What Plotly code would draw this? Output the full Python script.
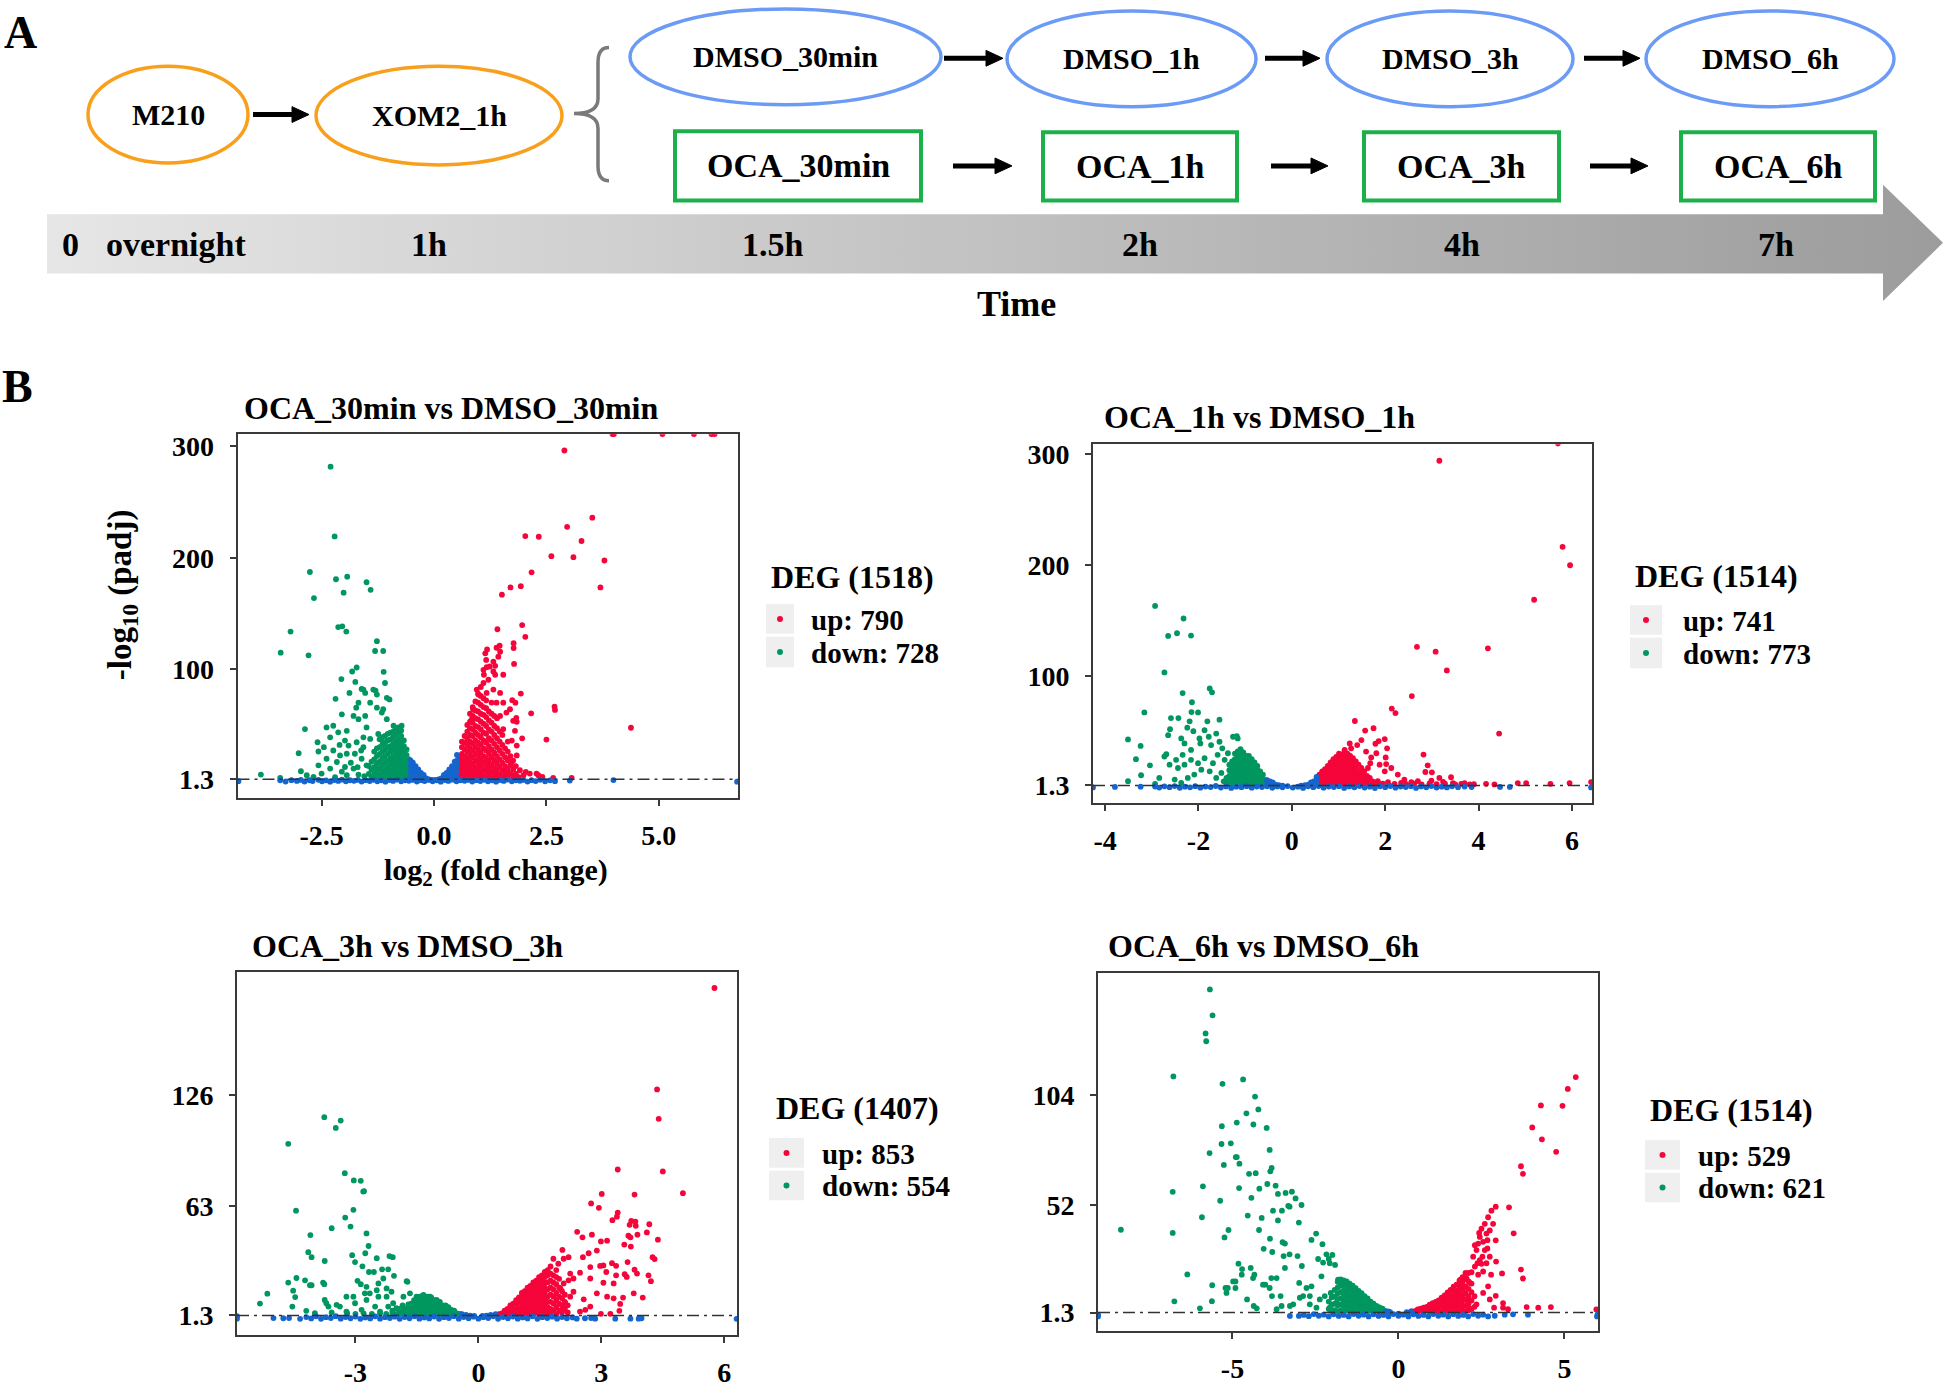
import plotly.graph_objects as go

W, H = 1946, 1388
SERIF = "Liberation Serif"
RED, GREEN, BLUE = "#F5053A", "#00965F", "#1565CF"
ORANGE, LBLUE, BGREEN = "#F8A01C", "#6B9BF5", "#1CB04A"

# ---------------- DATA ----------------
pre_stages = ["M210", "XOM2_1h"]
dmso_stages = ["DMSO_30min", "DMSO_1h", "DMSO_3h", "DMSO_6h"]
oca_stages = ["OCA_30min", "OCA_1h", "OCA_3h", "OCA_6h"]
time_labels = ["0", "overnight", "1h", "1.5h", "2h", "4h", "7h"]

panel_titles = ["OCA_30min vs DMSO_30min", "OCA_1h vs DMSO_1h",
                "OCA_3h vs DMSO_3h", "OCA_6h vs DMSO_6h"]
deg_total = [1518, 1514, 1407, 1514]
up_counts = [790, 741, 853, 529]
down_counts = [728, 773, 554, 621]
padj_threshold = 1.3

x_tickvals = [[-2.5, 0, 2.5, 5], [-4, -2, 0, 2, 4, 6], [-3, 0, 3, 6], [-5, 0, 5]]
x_ticktext = [["-2.5", "0.0", "2.5", "5.0"], ["-4", "-2", "0", "2", "4", "6"],
              ["-3", "0", "3", "6"], ["-5", "0", "5"]]
y_tickvals = [[1.3, 100, 200, 300], [1.3, 100, 200, 300], [1.3, 63, 126], [1.3, 52, 104]]
y_ticktext = [["1.3", "100", "200", "300"], ["1.3", "100", "200", "300"],
              ["1.3", "63", "126"], ["1.3", "52", "104"]]

# ---- panel 1: OCA_30min vs DMSO_30min  (log2FC, -log10 padj) ----
p1_up = [(3.97,311),(4.00,311),(5.08,311),(5.78,311),(6.17,311),(6.24,311),
 (2.90,296.2),(3.52,235.9),(2.96,227.7),(2.03,219.4),(2.33,218.8),(3.28,215.0),(2.61,201.4),
 (3.10,200.5),(3.79,197.5),(2.17,186.9),(1.93,174.5),(1.70,173.3),(1.51,166.8),(3.70,173.3),
 (1.96,139.6),(1.41,135.8),(2.03,129.0),(1.77,123.3),(1.77,118.9),(1.46,121.0),(1.39,119.2),
 (1.47,115.7),(1.18,117.7),(1.14,114.2),(1.78,104.7),(1.10,99.4),(1.17,101.8),(1.32,97.9),
 (1.36,95.0),(1.54,95.0),(1.74,72.2),(1.93,78.1),(1.81,69.9),(1.83,56.3),(1.84,52.7),(2.16,60.4),
 (2.68,66.3),(2.69,63.4),(1.96,37.9),(2.50,36.8),(4.38,47.4),(1.91,9.3),(2.04,7.8),(2.28,6.3),
 (2.41,3.4),(3.06,2.5),(0.95,81.7),(0.99,77.2),(1.17,78.7),(1.32,81.7),(1.47,78.7),(1.39,69.9),
 (1.54,69.9),(1.61,61.0),(1.47,58.0),(1.69,64.0),(1.76,53.6),(1.80,44.7),(1.54,46.2),(1.73,35.9),
 (1.84,31.4),(1.84,22.6),(1.73,16.7),(1.61,9.3),(1.99,4.8),(2.13,6.3),(2.32,4.8),(2.65,2.5),
 (0.87,64.0),(0.84,55.0),(1.10,87.6),(1.21,90.5),(1.11,95.0),(1.24,102.4),(1.32,106.8),
 (1.43,111.2),(1.16,108.3),(1.36,103.0)]
p1_up_dense = [(0.56,[2,6,11,16,21]),(0.62,[3,8,13,18,24,30,35]),(0.68,[2,7,12,17,22,28,34,40]),
 (0.74,[4,9,14,20,26,32,38,44,50]),(0.80,[2,7,12,17,23,29,35,41,47,53,60]),
 (0.86,[4,9,15,21,27,33,40,46,52,58,66]),(0.92,[2,7,12,18,24,30,36,43,49,56,63,71]),
 (0.98,[4,10,16,22,28,34,41,48,55,62,70,78]),(1.04,[2,7,13,19,25,32,39,46,53,60,68,76,84]),
 (1.10,[4,10,16,22,29,36,43,51,59,66,74]),(1.16,[2,8,14,20,27,34,42,49,57,65,72]),
 (1.22,[5,11,17,24,31,38,46,54,62]),(1.28,[2,8,14,21,28,36,44,52,60,70]),
 (1.34,[5,11,18,25,33,41,49,58]),(1.40,[2,8,15,22,30,38,47,56]),(1.46,[5,12,19,27,35,44]),
 (1.52,[3,9,16,24,32,41]),(1.58,[6,13,21,29]),(1.64,[3,10,18,26,35]),(1.70,[6,14,22]),
 (1.76,[3,10,18]),(1.82,[6,13]),(1.88,[3])]
p1_down = [(-2.30,281.7),(-2.21,219.1),(-2.76,187.2),(-1.93,183.0),(-2.18,180.7),(-1.50,178.0),
 (-1.41,171.2),(-2.01,168.6),(-2.67,163.8),(-2.13,137.8),(-2.04,138.4),(-1.95,133.7),(-3.19,133.7),
 (-3.41,114.8),(-2.79,112.4),(-1.27,125.1),(-1.31,116.3),(-1.13,116.3),(-1.12,97.6),(-1.72,101.5),
 (-1.82,97.9),(-2.06,91.1),(-1.75,88.5),(-1.09,87.6),(-1.30,80.8),(-1.57,81.7),(-1.88,78.7),
 (-2.19,73.4),(-2.87,46.2),(-3.01,24.6),(-2.59,34.4),(-2.96,8.4),(-3.85,5.4),(-3.42,2.5),
 (-1.61,82.3),(-1.53,78.7),(-1.35,81.7),(-1.27,77.2),(-1.05,74.3),(-0.99,72.8),(-1.13,64.0),
 (-1.42,69.9),(-1.68,69.9),(-1.73,65.4),(-1.79,58.0),(-1.68,55.1),(-2.05,59.5),(-2.24,49.2),
 (-2.39,47.7),(-2.13,43.3),(-1.94,44.7),(-1.98,35.9),(-2.31,38.8),(-2.57,26.1),(-2.24,27.0),
 (-2.09,22.6),(-1.94,24.1),(-1.90,31.4),(-1.72,34.4),(-1.57,30.0),(-1.76,24.1),(-1.61,19.6),
 (-1.50,13.7),(-1.79,10.8),(-1.98,12.2),(-2.16,16.7),(-2.31,10.8),(-2.50,6.3),(-1.94,4.8),
 (-1.68,5.4),(-2.68,3.4),(-2.83,4.8),(-2.57,13.7),(-2.39,19.6),(-1.50,47.7),(-1.57,38.8),
 (-1.42,37.4),(-1.24,41.8),(-1.13,34.4),(-1.05,55.1),(-0.90,49.2),(-0.79,47.7),(-0.72,49.2),
 (-1.16,61.0),(-1.27,65.4),(-1.53,58.0),(-2.20,3.0),(-2.05,8.0),(-1.85,16.0),(-1.70,12.0),
 (-1.55,4.0),(-1.62,27.0),(-2.45,30.0),(-2.10,32.0)]
p1_down_dense = [(-0.55,[2,6,11,15,19]),(-0.61,[3,8,13,18,23,28]),(-0.67,[2,6,11,16,21,26,31,36]),
 (-0.73,[4,9,14,19,24,29,34,40,45]),(-0.79,[2,7,12,17,22,27,32,37,43]),
 (-0.85,[4,9,14,19,25,30,35,41,47]),(-0.91,[2,7,12,17,22,28,33,39,44]),
 (-0.97,[4,9,15,20,26,31,37,43]),(-1.03,[2,7,12,18,24,30,36,42]),(-1.09,[5,10,16,22,28,34,40]),
 (-1.15,[2,8,14,20,26,32,39]),(-1.21,[5,11,17,24,30,37]),(-1.27,[3,9,15,22,29]),
 (-1.33,[6,12,19,26]),(-1.39,[3,10,17]),(-1.45,[6,13])]
p1_ns = [(-0.52,3),(-0.52,8),(-0.52,13),(-0.52,18),(-0.47,2),(-0.47,7),(-0.47,12),(-0.47,16),
 (-0.41,3),(-0.41,8),(-0.41,13),(-0.35,2),(-0.35,6),(-0.35,10),(-0.29,3),(-0.29,7),(-0.23,2),
 (-0.23,5),(-0.17,2),(-0.11,1),(0.51,3),(0.51,8),(0.51,13),(0.51,18),(0.51,23),(0.46,2),(0.46,7),
 (0.46,12),(0.46,17),(0.40,3),(0.40,8),(0.40,13),(0.34,2),(0.34,6),(0.34,10),(0.28,3),(0.28,7),
 (0.22,2),(0.22,5),(0.16,2),(0.10,1),(0.00,0.4),(-0.05,0.6),(0.05,0.6),
 (-4.35,-0.5),(-3.42,0.2),(-3.30,-0.8),(-3.17,0.4),(-3.05,-0.3),(-2.96,0.6),(-2.88,-0.9),
 (-2.77,0.3),(-2.70,-0.4),(-2.57,0.7),(-2.49,-0.6),(-2.40,0.2),(-2.31,-1.0),(-2.22,0.5),
 (-2.13,-0.3),(-2.05,0.8),(-1.96,-0.7),(-1.87,0.3),(-1.78,-0.2),(-1.69,0.6),(-1.61,-0.9),
 (-1.52,0.4),(-1.43,-0.4),(-1.34,0.7),(-1.26,-0.6),(-1.17,0.2),(-1.08,-1.0),(-0.99,0.5),
 (-0.91,-0.3),(-0.82,0.8),(-0.73,-0.7),(-0.64,0.3),(-0.56,-0.2),(-0.47,0.6),(-0.38,-0.9),
 (-0.29,0.4),(-0.21,-0.4),(-0.12,0.7),(-0.03,-0.6),(0.06,0.2),(0.15,-1.0),(0.24,0.5),(0.32,-0.3),
 (0.41,0.8),(0.50,-0.7),(0.59,0.3),(0.68,-0.2),(0.76,0.6),(0.85,-0.9),(0.94,0.4),(1.03,-0.4),
 (1.12,0.7),(1.20,-0.6),(1.29,0.2),(1.38,-1.0),(1.47,0.5),(1.55,-0.3),(1.64,0.8),(1.73,-0.7),
 (1.82,0.3),(1.91,-0.2),(1.99,0.6),(2.08,-0.9),(2.17,0.4),(2.26,-0.4),(2.36,0.7),(2.47,-0.6),
 (2.58,0.2),(2.69,-0.5),(3.02,0.0),(3.99,0.5),(6.74,-1.0)]

# ---- panel 2: OCA_1h vs DMSO_1h ----
p2_up = [(5.70,309.5),(3.16,294.0),(5.80,216.4),(5.96,199.8),(5.19,168.7),(2.68,126.3),(3.08,121.9),
 (4.20,124.9),(3.32,105.0),(2.57,81.9),(2.14,70.6),(2.22,66.5),(1.35,59.4),(1.57,50.8),(1.75,52.9),
 (4.44,48.1),(1.99,43.1),(1.86,41.3),(1.79,38.9),(2.04,34.8),(2.82,29.1),(2.91,19.4),(2.86,13.4),
 (3.00,13.1),(3.16,8.1),(3.41,8.7),(4.16,2.8),(4.34,2.2),(4.84,3.4),(5.02,3.4),(5.54,2.8),
 (5.95,3.4),(6.41,4.3),(1.70,26.5),(1.68,21.4),(1.88,20.0),(2.01,26.5),(2.02,20.6),(1.63,17.0),
 (1.49,15.5),(1.40,37.7),(1.49,42.2),(1.27,34.8),(1.13,33.3),(1.24,39.2),(1.59,31.8),(1.81,30.3),
 (1.99,14.0),(2.13,17.0),(2.27,11.1),(2.41,6.6),(2.70,5.2),(2.99,5.7),(3.24,4.6),(3.45,3.4),
 (3.63,2.8),(3.81,2.2),(1.84,5.2),(2.06,4.3),(2.34,3.7),(2.56,4.3),(2.45,2.5),(2.62,3.0),
 (2.78,2.2),(2.95,3.2),(3.10,2.4),(3.28,3.0),(3.50,2.2),(3.70,3.3),(3.90,2.4),(2.20,2.6),
 (1.95,2.9),(1.85,3.8)]
p2_up_dense = [(0.53,[2,6]),(0.59,[3,7,11]),(0.65,[2,6,10,14]),(0.71,[4,8,12,16]),
 (0.77,[2,6,10,14,19]),(0.83,[4,8,12,17,22]),(0.89,[2,6,10,15,20,25]),(0.95,[4,8,13,18,23,27]),
 (1.01,[2,6,11,16,21,26,30]),(1.07,[4,9,14,19,24,29]),(1.13,[2,7,12,17,22,27,32]),
 (1.19,[5,10,15,20,25,30]),(1.25,[3,8,13,18,23,28]),(1.31,[5,10,15,20,26]),(1.37,[2,7,12,17,23]),
 (1.43,[4,9,14,20]),(1.49,[2,7,12,17]),(1.55,[4,9,14]),(1.61,[2,6,10]),(1.67,[4,8]),(1.73,[2,5]),
 (1.79,[3])]
p2_down = [(-2.93,163.1),(-2.32,151.8),(-2.65,136.1),(-2.46,138.5),(-2.16,136.4),(-2.73,103.2),
 (-1.76,88.7),(-1.71,85.2),(-2.34,84.6),(-2.14,76.3),(-2.15,67.4),(-2.01,67.1),(-3.16,67.1),
 (-2.59,62.0),(-2.43,62.0),(-2.19,59.1),(-1.81,59.1),(-1.55,60.6),(-3.51,42.8),(-3.24,36.9),
 (-3.34,25.0),(-3.04,19.4),(-3.23,10.5),(-3.51,5.1),(-1.18,45.7),(-2.24,53.4),(-2.11,50.2),
 (-2.61,52.0),(-2.65,46.6),(-2.37,43.7),(-2.30,39.2),(-1.98,43.7),(-1.87,51.1),(-1.78,45.2),
 (-1.96,39.2),(-1.73,37.7),(-1.62,48.1),(-1.55,40.7),(-1.49,34.8),(-2.16,33.3),(-2.34,28.9),
 (-2.48,24.4),(-2.69,29.4),(-2.73,27.4),(-2.62,20.0),(-2.44,17.0),(-2.30,20.0),(-2.16,24.4),
 (-2.01,21.4),(-1.87,25.9),(-1.69,21.4),(-1.94,15.5),(-1.76,14.0),(-2.09,11.1),(-2.23,8.1),
 (-2.37,3.7),(-2.51,6.6),(-2.84,8.1),(-2.93,2.8),(-1.62,8.1),(-1.51,12.6),(-1.59,28.9),
 (-1.44,24.4),(-1.37,30.3),(-1.26,45.2),(-1.16,43.7)]
p2_down_dense = [(-0.56,[2,6]),(-0.62,[3,7,11]),(-0.68,[2,6,10,14]),(-0.74,[4,8,12,16,19]),
 (-0.80,[2,6,10,14,18,22]),(-0.86,[4,8,12,16,20,25]),(-0.92,[2,6,10,15,20,24,28]),
 (-0.98,[4,8,13,18,23,28]),(-1.04,[2,6,11,16,21,26,31]),(-1.10,[4,9,14,19,24,29,34]),
 (-1.16,[2,7,12,17,22,27,32]),(-1.22,[5,10,15,20,25,30]),(-1.28,[3,8,13,18,23]),
 (-1.34,[5,10,15,20]),(-1.40,[3,8]),(-1.46,[5])]
p2_ns = [(-0.53,2),(-0.53,6),(-0.47,2),(-0.47,5),(-0.41,2),(-0.41,4),(-0.35,2),(-0.28,1.5),
 (-0.20,1),(0.53,2),(0.53,6),(0.53,9),(0.47,2),(0.47,5),(0.41,2),(0.41,4),(0.35,2),(0.28,1.5),
 (0.20,1),(-4.26,-0.5),(-3.79,0.0),(-3.24,0.2),(-2.93,0.3),(-2.84,-0.6),(-2.73,0.5),(-2.62,-0.3),
 (-2.51,0.7),(-2.40,-0.8),(-2.29,0.2),(-2.18,-0.4),(-2.07,0.6),(-1.96,-0.7),(-1.85,0.3),
 (-1.74,-0.2),(-1.63,0.8),(-1.52,-0.6),(-1.41,0.4),(-1.30,-0.9),(-1.19,0.2),(-1.08,-0.3),
 (-0.97,0.6),(-0.86,-0.7),(-0.75,0.3),(-0.64,-0.2),(-0.53,0.5),(-0.42,-0.8),(-0.31,0.4),
 (-0.20,-0.4),(-0.09,0.7),(0.02,-0.6),(0.13,0.2),(0.24,-0.9),(0.35,0.5),(0.46,-0.3),(0.57,0.8),
 (0.68,-0.7),(0.79,0.3),(0.90,-0.2),(1.01,0.6),(1.12,-0.9),(1.23,0.4),(1.34,-0.4),(1.45,0.7),
 (1.56,-0.6),(1.67,0.2),(1.78,-1.0),(1.89,0.5),(2.00,-0.3),(2.11,0.8),(2.22,-0.7),(2.33,0.3),
 (2.44,-0.2),(2.55,0.6),(2.66,-0.9),(2.77,0.4),(2.88,-0.4),(2.99,0.7),(3.10,-0.6),(3.21,0.2),
 (3.32,-0.5),(3.43,0.5),(3.56,-0.3),(3.70,0.3),(3.85,-0.2),(4.46,0.0),(4.67,0.0),(6.41,-0.5)]

# ---- panel 3: OCA_3h vs DMSO_3h ----
p3_up = [(5.76,186.6),(4.36,129.2),(4.40,112.6),(3.40,83.9),(4.50,82.8),(4.99,70.5),(3.01,70.1),
 (3.81,69.7),(2.75,64.7),(2.94,62.2),(3.40,59.5),(3.38,57.2),(3.27,55.2),(3.73,54.8),(3.83,54.4),
 (3.69,52.6),(3.84,52.0),(4.17,52.9),(2.41,48.6),(2.77,47.0),(2.54,45.5),(4.11,48.3),(3.88,47.0),
 (3.66,46.4),(3.71,45.5),(2.99,43.2),(3.14,43.6),(4.38,44.2),(2.05,38.4),(2.20,34.3),(2.55,34.3),
 (2.69,36.5),(2.89,38.0),(3.56,41.4),(3.72,40.3),(4.25,34.3),(4.30,33.2),(3.64,31.5),(3.26,30.9),
 (3.36,29.4),(3.05,29.6),(2.97,29.3),(2.73,28.7),(3.12,25.9),(2.48,25.5),(3.81,27.2),(3.87,25.0),
 (3.57,24.6),(3.62,23.1),(4.15,24.0),(4.21,20.7),(3.36,24.0),(3.30,19.4),(3.05,19.8),(2.73,22.2),
 (2.32,22.2),(2.89,13.8),(3.14,11.9),(3.30,11.0),(3.53,11.4),(3.46,7.8),(3.79,13.8),(4.01,11.4),
 (2.57,10.4),(2.73,6.3),(2.99,2.2),(3.22,2.2),(3.44,3.9),(2.12,8.2),(2.24,11.9),(2.32,14.7),
 (2.08,19.4),(2.20,21.2),(2.00,16.6),(2.24,25.0),(1.95,30.6),(1.83,33.4),(2.08,33.4),(2.04,4.5),
 (2.48,3.5),(2.61,4.5)]
p3_up_dense = [(0.50,[2]),(0.57,[2.5]),(0.64,[2,4]),(0.71,[2.5,5]),(0.78,[2,4.5,7]),(0.85,[2.5,5,8]),
 (0.92,[2,5,8,10]),(0.99,[2.5,5.5,8.5,11.5]),(1.06,[2,5,8,11,14]),(1.13,[3,6,9,12,15]),
 (1.20,[2,5,8,11,14,17]),(1.27,[3,6,9,12,15,18]),(1.34,[2,5,8,11,14,17,20]),
 (1.41,[3,6,9,12,15,18,21]),(1.48,[2,5,8,11,14,17,20,23]),(1.55,[3,6,9,12,15,18,21,24]),
 (1.62,[2,5,8,11,14,17,20,23,26]),(1.69,[3,6,9,12,16,20,24,27]),(1.76,[2,5,9,13,17,21,25,29]),
 (1.83,[4,8,12,16,20,24]),(1.90,[2,6,10,14,19,23,27]),(1.97,[4,8,12,17,22]),(2.04,[3,7,11,15]),
 (2.11,[5,9,13]),(2.18,[3,7])]
p3_down = [(-3.76,113.5),(-3.36,111.6),(-3.48,107.4),(-4.64,98.4),(-3.26,81.8),(-3.04,77.7),
 (-2.87,77.5),(-2.81,71.4),(-2.79,71.6),(-4.45,60.6),(-3.05,61.1),(-3.25,56.7),(-3.12,51.6),
 (-3.58,50.7),(-4.10,46.8),(-2.73,47.7),(-2.68,40.6),(-4.15,37.1),(-4.07,34.3),(-2.76,36.5),
 (-3.08,35.4),(-3.01,31.5),(-2.48,33.7),(-2.17,34.9),(-2.09,34.3),(-3.75,32.1),(-2.83,29.1),
 (-2.67,25.9),(-2.55,25.9),(-2.35,27.4),(-2.20,27.4),(-2.06,23.7),(-4.44,22.5),(-4.64,19.9),
 (-4.52,15.3),(-4.47,11.7),(-4.54,6.3),(-5.15,13.6),(-5.33,8.0),(-4.23,21.2),(-4.07,18.4),
 (-4.11,18.4),(-3.79,19.9),(-3.76,19.0),(-1.75,20.7),(-1.73,20.3),(-2.95,20.9),(-2.87,19.0),
 (-2.73,17.5),(-2.44,19.4),(-2.32,22.2),(-2.48,15.6),(-2.77,13.8),(-2.65,13.8),(-2.24,16.6),
 (-2.12,14.7),(-2.44,11.9),(-2.24,11.9),(-2.08,8.2),(-2.00,5.4),(-4.20,3.9),(-3.75,10.1),
 (-3.71,8.2),(-3.66,6.3),(-3.46,7.3),(-3.22,11.9),(-3.38,6.3),(-3.05,11.9),(-3.01,8.2),
 (-2.73,10.1),(-2.52,6.3),(-3.99,2.6),(-3.58,3.0),(-3.22,3.5),(-2.85,4.5),(-1.83,11.9),
 (-1.67,13.8),(-1.51,11.9),(-1.34,12.9),(-1.18,11.9),(-1.02,10.1),(-1.59,8.2),(-1.91,4.5),
 (-2.20,6.3),(-2.40,3.5)]
p3_down_dense = [(-0.45,[2.2]),(-0.52,[2.5]),(-0.59,[2.2,4]),(-0.66,[2.5,4.5]),(-0.73,[2.2,4.5,6]),
 (-0.80,[2.5,5,7]),(-0.87,[2.2,4.5,7]),(-0.94,[2.5,5,7.5,9]),(-1.01,[2.2,4.5,7,9.5]),
 (-1.08,[2.5,5,7.5,10]),(-1.15,[2.2,4.5,7,9.5,11.5]),(-1.22,[2.5,5,7.5,10,12]),
 (-1.29,[2.2,4.5,7,9.5,12]),(-1.36,[2.5,5,7.5,10,12.5]),(-1.43,[2.2,4.5,7,9.5,12]),
 (-1.50,[2.5,5,8,11]),(-1.57,[2.2,4.5,7,10]),(-1.64,[2.5,5,8]),(-1.71,[2.2,4.5,7.5]),
 (-1.78,[2.5,5]),(-1.85,[2.2,4.5,7]),(-1.92,[2.5,5]),(-1.99,[2.2]),(-2.10,[2.5,4]),(-2.25,[2.2]),
 (-2.40,[2.5]),(-2.60,[2.2]),(-2.80,[2.5]),(-3.00,[2.2]),(-3.20,[2.4])]
p3_ns = [(-0.40,2.0),(-0.30,1.6),(-0.20,1.2),(-0.10,1.0),(0.10,1.0),(0.20,1.2),(0.30,1.6),(0.42,2.1),
 (-5.89,-0.5),(-5.89,0.9),(-5.00,-0.2),(-4.76,-0.3),(-4.62,-0.2),(-4.35,-0.6),(-4.20,0.4),
 (-4.08,-0.4),(-3.96,0.8),(-3.84,-0.6),(-3.72,0.3),(-3.60,-0.2),(-3.48,0.9),(-3.36,-0.5),
 (-3.24,0.4),(-3.12,-0.3),(-3.00,0.7),(-2.88,-0.6),(-2.76,0.2),(-2.64,-0.4),(-2.52,0.8),
 (-2.40,-0.5),(-2.28,0.3),(-2.16,-0.2),(-2.04,0.6),(-1.92,-0.6),(-1.80,0.4),(-1.68,-0.3),
 (-1.56,0.8),(-1.44,-0.5),(-1.32,0.2),(-1.20,-0.4),(-1.08,0.7),(-0.96,-0.6),(-0.84,0.3),
 (-0.72,-0.2),(-0.60,0.9),(-0.48,-0.5),(-0.36,0.4),(-0.24,-0.3),(-0.12,0.6),(0.00,-0.5),
 (0.12,0.3),(0.24,-0.2),(0.36,0.8),(0.48,-0.6),(0.60,0.4),(0.72,-0.3),(0.84,0.7),(0.96,-0.5),
 (1.08,0.2),(1.20,-0.4),(1.32,0.8),(1.44,-0.6),(1.56,0.3),(1.68,-0.2),(1.80,0.6),(1.92,-0.5),
 (2.04,0.4),(2.16,-0.3),(2.30,0.2),(2.40,-0.5),(2.60,-0.3),(2.75,-0.2),(2.85,-0.5),(3.34,-0.5),
 (3.71,-0.5),(3.91,-0.5),(3.98,-0.3),(6.30,-0.6)]

# ---- panel 4: OCA_6h vs DMSO_6h ----
p4_up = [(5.34,112.5),(5.10,106.9),(4.29,99.1),(4.94,98.9),(4.03,88.7),(4.32,83.1),(4.75,77.2),
 (3.69,70.4),(3.75,66.8),(3.33,51.0),(3.47,38.7),(2.93,35.4),(2.94,25.4),(3.69,21.6),(3.75,17.4),
 (3.12,19.8),(2.79,19.2),(2.93,9.2),(3.15,5.8),(3.86,3.9),(4.59,3.9),(5.96,2.8),(2.93,51.3),
 (2.80,49.4),(2.70,46.3),(2.60,43.2),(2.50,40.9),(2.43,38.9),(2.68,31.6),(2.60,30.8),(2.53,27.7),
 (2.45,26.1),(2.38,24.6),(2.30,23.0),(2.50,24.3),(2.20,20.4),(2.05,17.4),(1.87,16.8),(2.15,15.3),
 (1.93,12.9),(2.88,3.6),(2.35,5.2),(2.05,7.2),(2.15,3.3),(2.68,35.5),(2.55,34.7),(2.40,33.9),
 (2.35,30.8),(2.25,27.7),(2.45,37.0),(2.30,33.1),(2.75,40.1),(2.65,38.6),(2.85,43.2),(2.75,27.7),
 (2.65,24.6),(2.55,20.7),(2.40,19.2),(2.70,13.7),(2.55,10.6),(2.75,7.5),(3.30,2.9),(3.15,3.6),
 (4.21,3.6)]
p4_up_dense = [(0.40,[1.8]),(0.49,[2.0]),(0.58,[2.0,2.8]),(0.67,[2.2,3.2]),(0.76,[2.0,3.6]),
 (0.85,[2.2,4.0]),(0.94,[2.0,3.5,5.0]),(1.03,[2.2,4.0,5.8]),(1.12,[2.0,4.2,6.4]),
 (1.21,[2.2,4.6,7.0]),(1.30,[2.0,4.4,6.8,8.4]),(1.39,[2.2,4.6,7.0,9.4]),
 (1.48,[2.0,4.4,6.8,9.2,10.8]),(1.57,[2.2,4.6,7.0,9.4,12.0]),(1.66,[2.0,4.4,6.8,9.2,11.6,13.5]),
 (1.75,[2.2,4.6,7.0,9.4,11.8,14.5]),(1.84,[2.0,4.4,6.8,9.2,11.6,14.0,16.5]),
 (1.93,[2.2,4.6,7.0,9.4,12.0,15.0,18.0]),(2.02,[2.0,4.5,7.5,10.5,13.5,17.0,20.0]),
 (2.11,[2.4,5.5,9.0,12.5,16.0,20.0]),(2.20,[3.0,7.0,11.0,15.0]),(2.29,[4.0,9.0])]
p4_down = [(-5.68,153.9),(-5.60,141.6),(-5.81,133.1),(-5.79,129.4),(-6.78,112.8),(-4.68,111.4),
 (-5.30,109.3),(-4.32,103.3),(-4.22,97.2),(-4.58,95.4),(-4.87,91.0),(-4.37,90.1),(-3.97,88.5),
 (-5.32,89.3),(-5.33,80.9),(-5.05,81.2),(-3.88,78.1),(-5.69,76.6),(-4.90,74.7),(-4.87,74.7),
 (-5.26,71.0),(-4.79,71.6),(-4.50,66.8),(-4.30,67.1),(-3.86,68.0),(-3.82,69.6),(-3.95,62.0),
 (-3.70,61.2),(-6.80,58.3),(-5.89,60.9),(-4.80,60.1),(-4.19,59.8),(-3.63,57.3),(-3.21,58.4),
 (-3.10,55.2),(-2.92,52.1),(-3.40,57.8),(-4.43,55.5),(-5.37,54.1),(-3.78,49.4),(-3.51,49.4),
 (-3.63,44.8),(-3.32,51.7),(-3.28,51.3),(-4.54,47.1),(-4.12,46.0),(-5.92,46.3),(-3.00,43.8),
 (-8.36,40.4),(-6.80,38.9),(-5.12,40.3),(-5.24,36.8),(-4.20,40.3),(-3.87,36.2),(-3.49,34.5),
 (-3.42,33.9),(-4.06,31.4),(-3.80,29.9),(-2.62,35.6),(-2.48,38.6),(-2.29,33.6),(-3.46,28.0),
 (-3.28,28.8),(-3.04,28.0),(-2.91,23.3),(-3.42,22.4),(-2.42,26.6),(-2.17,28.8),(-2.10,26.6),
 (-2.07,24.6),(-1.99,28.5),(-1.91,23.8),(-2.27,24.9),(-4.82,24.4),(-4.71,21.8),(-4.72,19.2),
 (-4.45,22.4),(-4.34,19.2),(-4.38,17.6),(-6.36,19.3),(-5.61,14.2),(-5.21,12.9),(-5.14,12.9),
 (-5.18,10.6),(-4.98,16.0),(-4.91,16.0),(-4.91,12.9),(-4.08,14.5),(-4.01,14.5),(-3.83,17.6),
 (-3.67,17.6),(-3.88,12.9),(-3.81,9.1),(-3.55,9.1),(-3.52,4.4),(-3.17,5.2),(-2.97,8.3),
 (-2.99,15.3),(-2.87,9.1),(-2.77,12.9),(-2.62,13.7),(-2.32,18.4),(-2.22,9.1),(-2.04,10.6),
 (-1.82,16.8),(-1.74,15.3),(-4.56,7.5),(-4.36,4.4),(-4.27,3.3),(-6.75,6.6),(-5.98,3.3),
 (-5.62,6.7),(-3.67,2.9),(-3.27,4.4),(-2.67,5.2),(-2.47,3.6),(-2.67,9.1),(-2.37,7.5),(-1.87,6.0),
 (-2.07,3.6)]
p4_down_dense = [(-0.30,[1.8]),(-0.39,[2.0]),(-0.48,[2.2,3.2]),(-0.57,[2.0,3.8]),(-0.66,[2.2,4.4]),
 (-0.75,[2.0,4.0,5.5]),(-0.84,[2.2,4.5,6.5]),(-0.93,[2.0,4.3,6.6,8.0]),(-1.02,[2.2,4.6,7.0,9.0]),
 (-1.11,[2.0,4.4,6.8,9.2,10.5]),(-1.20,[2.2,4.6,7.0,9.4,11.5]),(-1.29,[2.0,4.4,6.8,9.2,11.6,12.8]),
 (-1.38,[2.2,4.6,7.0,9.4,11.8,14.0]),(-1.47,[2.0,4.4,6.8,9.2,11.6,14.0,15.0]),
 (-1.56,[2.2,4.6,7.0,9.4,11.8,14.2,16.0]),(-1.65,[2.0,4.4,6.8,9.2,11.6,14.0,16.5]),
 (-1.74,[2.2,5.0,8.0,11.0,14.0,17.0]),(-1.83,[2.0,4.8,7.6,10.4,13.2,15.8]),
 (-1.92,[2.4,5.5,8.8,12.0]),(-2.01,[2.0,5.0,8.5]),(-2.10,[3.0,6.5])]
p4_ns = [(-0.38,1.8),(-0.25,1.5),(0.00,0.8),(0.25,1.5),(0.38,1.8),
 (-9.05,0.3),(-9.05,-0.5),(-3.27,-0.3),(-3.00,-0.3),(-2.85,0.2),(-2.70,-0.4),(-2.55,0.6),
 (-2.40,-0.2),(-2.25,0.3),(-2.10,-0.5),(-1.95,0.5),(-1.80,-0.3),(-1.65,0.2),(-1.50,-0.5),
 (-1.35,0.6),(-1.20,-0.2),(-1.05,0.3),(-0.90,-0.5),(-0.75,0.5),(-0.60,-0.3),(-0.45,0.2),
 (-0.30,-0.5),(-0.15,0.6),(0.00,-0.2),(0.15,0.3),(0.30,-0.5),(0.45,0.5),(0.60,-0.3),(0.75,0.2),
 (0.90,-0.5),(1.05,0.6),(1.20,-0.2),(1.35,0.3),(1.50,-0.5),(1.65,0.5),(1.80,-0.3),(1.95,0.2),
 (2.10,-0.5),(2.25,0.6),(2.40,-0.2),(2.55,0.3),(2.70,-0.5),(2.90,-0.2),(3.20,0.3),(3.45,0.5),
 (3.90,0.3),(5.98,-0.5),(6.00,0.5)]


def expand(cols):
    return [(x, y) for x, ys in cols for y in ys]


panels = [
    dict(up=p1_up + expand(p1_up_dense), down=p1_down + expand(p1_down_dense), ns=p1_ns),
    dict(up=p2_up + expand(p2_up_dense), down=p2_down + expand(p2_down_dense), ns=p2_ns),
    dict(up=p3_up + expand(p3_up_dense), down=p3_down + expand(p3_down_dense), ns=p3_ns),
    dict(up=p4_up + expand(p4_up_dense), down=p4_down + expand(p4_down_dense), ns=p4_ns),
]

# ---------------- LAYOUT (pixels) ----------------
plot_px = [(237.5, 738, 435, 803), (1093, 1592, 445, 808), (237, 737, 980, 1347), (1098, 1598, 981, 1343)]
x_ranges = [(-4.37, 6.76), (-4.26, 6.43), (-5.89, 6.31), (-9.05, 6.01)]
y_ranges = [(-15.25, 310.7), (-14.1, 308.9), (-9.5, 195.5), (-7.2, 161.5)]
title_pos = [(242, 408), (1102, 417), (250, 953), (1106, 953)]
legend_pos = [  # title x,y ; box x0,x1 ; box1 y0,y1 ; box2 y0,y1 ; text x
    (769, 580, 766, 794, 607, 637, 640, 671, 809),
    (1633, 578, 1630, 1662, 608, 638, 641, 672, 1681),
    (774, 1117, 769, 804, 1148, 1178, 1181, 1211, 820),
    (1648, 1120, 1645, 1680, 1150, 1180, 1183, 1213, 1696),
]

fig = go.Figure()

CX, CY = "x5", "y5"   # page-wide canvas axes in pixel units

# time arrow with gradient
fig.add_trace(go.Scatter(
    x=[47, 1883, 1883, 1943, 1883, 1883, 47, 47],
    y=[212, 212, 182, 241, 300, 272, 272, 212],
    mode="lines", fill="toself", line=dict(width=0),
    fillgradient=dict(type="horizontal", colorscale=[[0, "#e6e6e6"], [1, "#9c9c9c"]]),
    xaxis=CX, yaxis=CY, hoverinfo="skip", showlegend=False))

for i, pdata in enumerate(panels):
    n = i + 1
    xa = "x" if n == 1 else f"x{n}"
    ya = "y" if n == 1 else f"y{n}"
    for key, col in (("up", RED), ("down", GREEN), ("ns", BLUE)):
        pts = pdata[key]
        fig.add_trace(go.Scatter(
            x=[p[0] for p in pts], y=[p[1] for p in pts], mode="markers",
            marker=dict(color=col, size=5.8, line=dict(width=0)),
            xaxis=xa, yaxis=ya, hoverinfo="skip", showlegend=False))

tickfont = dict(family=SERIF, size=28, color="black", weight="bold")
layout_axes = {}
for i in range(4):
    n = i + 1
    l, r, t, b = plot_px[i]
    sx = "" if n == 1 else str(n)
    layout_axes[f"xaxis{sx}"] = dict(
        domain=[l / W, r / W], range=list(x_ranges[i]), anchor=f"y{sx}",
        tickvals=x_tickvals[i], ticktext=x_ticktext[i], tickfont=tickfont,
        showgrid=False, zeroline=False, showline=True, mirror=True,
        linecolor="#3a3a3a", linewidth=2, ticks="outside", ticklen=6, tickwidth=1.5,
        tickcolor="#3a3a3a", ticklabelstandoff=6, fixedrange=True)
    layout_axes[f"yaxis{sx}"] = dict(
        domain=[1 - b / H, 1 - t / H], range=list(y_ranges[i]), anchor=f"x{sx}",
        tickvals=y_tickvals[i], ticktext=y_ticktext[i], tickfont=tickfont,
        showgrid=False, zeroline=False, showline=True, mirror=True,
        linecolor="#3a3a3a", linewidth=2, ticks="outside", ticklen=6, tickwidth=1.5,
        tickcolor="#3a3a3a", ticklabelstandoff=10, fixedrange=True)
layout_axes["xaxis5"] = dict(domain=[0, 1], range=[0, W], visible=False, anchor="y5", fixedrange=True)
layout_axes["yaxis5"] = dict(domain=[0, 1], range=[H, 0], visible=False, anchor="x5", fixedrange=True)

fig.update_layout(width=W, height=H, margin=dict(l=0, r=0, t=0, b=0),
                  paper_bgcolor="white", plot_bgcolor="rgba(0,0,0,0)", showlegend=False,
                  **layout_axes)


def txt(x, y, s, size, xanchor="center", angle=0):
    fig.add_annotation(x=x, y=y, xref=CX, yref=CY, text=s, showarrow=False,
                       xanchor=xanchor, yanchor="middle", textangle=angle,
                       font=dict(family=SERIF, size=size, color="black", weight="bold"))


def arrow(x0, x1, y):
    # shaft + triangular head drawn as shapes
    fig.add_shape(type="line", xref=CX, yref=CY, x0=x0, x1=x1 - 12, y0=y, y1=y,
                  line=dict(color="black", width=5))
    fig.add_shape(type="path", xref=CX, yref=CY,
                  path=f"M {x1 - 17} {y - 8} L {x1} {y} L {x1 - 17} {y + 8} Z",
                  fillcolor="black", line=dict(color="black", width=1))


# threshold lines
for i in range(4):
    n = i + 1
    sx = "" if n == 1 else str(n)
    fig.add_shape(type="line", xref=f"x{sx} domain", yref=f"y{sx}", x0=0, x1=1,
                  y0=padj_threshold, y1=padj_threshold,
                  line=dict(color="#333333", width=1.5, dash="12px,5px,3px,5px"))

# ---- Panel A ----
txt(20, 28, "A", 46)
pre_ell = [(88, 248, 62, 160), (316, 562, 62, 162)]
for (x0, x1, y0, y1), lab in zip(pre_ell, pre_stages):
    fig.add_shape(type="circle", xref=CX, yref=CY, x0=x0, x1=x1, y0=y0, y1=y1,
                  line=dict(color=ORANGE, width=3.5))
    txt((x0 + x1) / 2, (y0 + y1) / 2, lab, 30)
arrow(253, 309, 111)

fig.add_shape(type="path", xref=CX, yref=CY,
              path="M 609 43 Q 598 43 598 58 L 598 95 Q 598 110 574 110 Q 598 110 598 125 "
                   "L 598 163 Q 598 178 609 178",
              line=dict(color="#7a7a7a", width=3.5))

dmso_ell = [(630, 941, 4, 101), (1007, 1256, 6, 103), (1327, 1573, 6, 103), (1646, 1894, 6, 103)]
for (x0, x1, y0, y1), lab in zip(dmso_ell, dmso_stages):
    fig.add_shape(type="circle", xref=CX, yref=CY, x0=x0, x1=x1, y0=y0, y1=y1,
                  line=dict(color=LBLUE, width=3.5))
    txt((x0 + x1) / 2, (y0 + y1) / 2, lab, 30)
for x0, x1 in [(944, 1003), (1265, 1320), (1584, 1640)]:
    arrow(x0, x1, 54)

oca_box = [(675, 921, 128, 198), (1043, 1237, 129, 198), (1364, 1559, 129, 198), (1681, 1875, 129, 198)]
for (x0, x1, y0, y1), lab in zip(oca_box, oca_stages):
    fig.add_shape(type="rect", xref=CX, yref=CY, x0=x0, x1=x1, y0=y0, y1=y1,
                  line=dict(color=BGREEN, width=4))
    txt((x0 + x1) / 2, (y0 + y1) / 2, lab, 34)
for x0, x1 in [(953, 1012), (1271, 1328), (1590, 1648)]:
    arrow(x0, x1, 163)

time_x = [70, 176, 429, 773, 1140, 1462, 1776]
for xx, lab in zip(time_x, time_labels):
    txt(xx, 243, lab, 34)
txt(1016, 303, "Time", 36)

# ---- Panel B ----
txt(17, 387, "B", 46)
for i in range(4):
    tx, ty = title_pos[i]
    txt(tx, ty, panel_titles[i], 32, xanchor="left")
    lx, ly, bx0, bx1, b1y0, b1y1, b2y0, b2y1, tx2 = legend_pos[i]
    txt(lx, ly, f"DEG ({deg_total[i]})", 32, xanchor="left")
    for (y0, y1), col, lab in (((b1y0, b1y1), RED, f"up: {up_counts[i]}"),
                               ((b2y0, b2y1), GREEN, f"down: {down_counts[i]}")):
        fig.add_shape(type="rect", xref=CX, yref=CY, x0=bx0, x1=bx1, y0=y0, y1=y1,
                      fillcolor="#efefef", line=dict(width=0), layer="below")
        cx, cy = (bx0 + bx1) / 2, (y0 + y1) / 2
        fig.add_shape(type="circle", xref=CX, yref=CY, x0=cx - 3, x1=cx + 3, y0=cy - 3, y1=cy + 3,
                      fillcolor=col, line=dict(width=0))
        txt(tx2, cy + 1, lab, 29, xanchor="left")

txt(122, 598, "-log<sub>10</sub> (padj)", 33, angle=-90)
txt(496, 878, "log<sub>2</sub> (fold change)", 30)

fig.write_html("out.html", config={"displayModeBar": False},
               post_script="document.body.style.margin='0';")
